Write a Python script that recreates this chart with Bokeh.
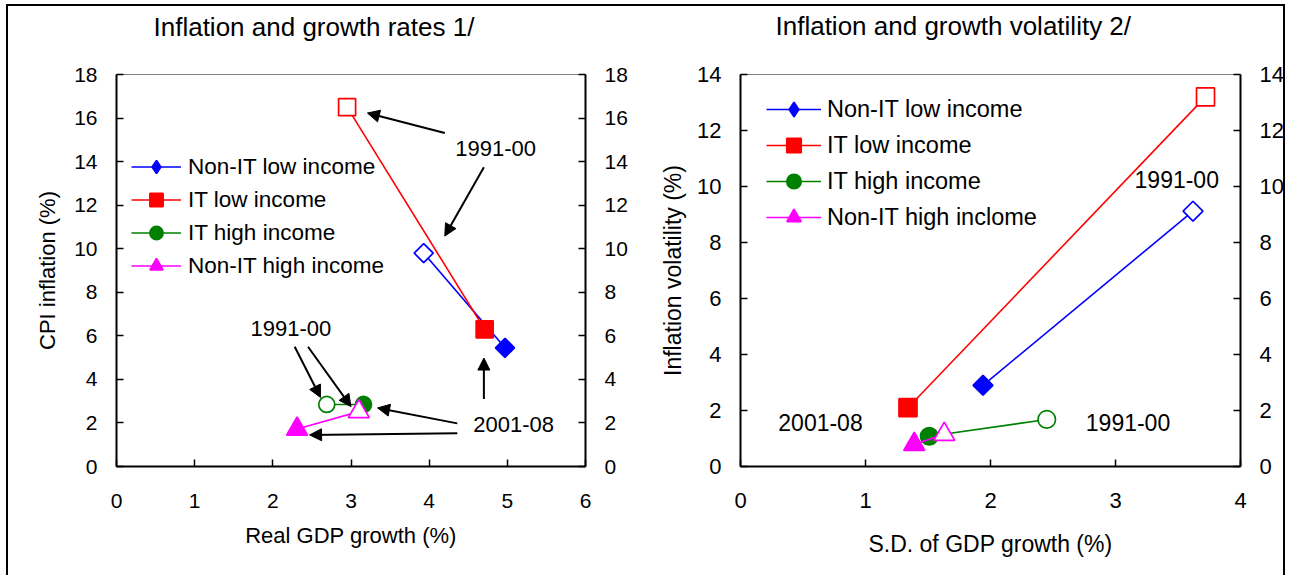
import math
from bokeh.plotting import figure
from bokeh.models import (Range1d, LinearAxis, FixedTicker, Label, Arrow, NormalHead,
                          Legend, LegendItem, ColumnDataSource, Title)
from bokeh.layouts import row
from bokeh.embed import file_html
from bokeh.resources import INLINE

FONT = "Liberation Sans"

# ---------------- data ----------------
series_left = ["Non-IT low income", "IT low income", "IT high income", "Non-IT high income"]
series_right = ["Non-IT low income", "IT low income", "IT high income", "Non-IT high inclome"]
colors = ["#0000ff", "#ff0000", "#008000", "#ff00ff"]
markers = ["square", "square", "circle", "triangle"]   # first is drawn rotated (diamond)
legend_markers = ["diamond", "square", "circle", "triangle"]
angles = [math.pi / 4, 0, 0, 0]

# Left panel: real GDP growth (x) and CPI inflation (y); [1991-00, 2001-08]
growth_9100 = [3.93, 2.95, 2.69, 3.10]
growth_0108 = [4.97, 4.71, 3.16, 2.31]
cpi_9100 = [9.8, 16.5, 2.85, 2.52]
cpi_0108 = [5.45, 6.3, 2.85, 1.72]

# Right panel: S.D. of GDP growth (x) and inflation volatility (y); [1991-00, 2001-08]
sdgdp_9100 = [3.62, 3.72, 2.45, 1.63]
sdgdp_0108 = [1.94, 1.34, 1.51, 1.39]
vol_9100 = [9.12, 13.2, 1.68, 1.15]
vol_0108 = [2.9, 2.1, 1.08, 0.79]

left_x_ticks = [0, 1, 2, 3, 4, 5, 6]
left_y_ticks = [0, 2, 4, 6, 8, 10, 12, 14, 16, 18]
right_x_ticks = [0, 1, 2, 3, 4]
right_y_ticks = [0, 2, 4, 6, 8, 10, 12, 14]

# annotations (data coordinates)
left_labels = [("1991-00", 4.85, 14.62), ("1991-00", 2.23, 6.35), ("2001-08", 5.08, 1.95)]
left_arrows = [(4.20, 15.31, 3.21, 16.23), (4.70, 13.74, 4.20, 10.58),
               (2.28, 5.50, 2.61, 3.17), (2.45, 5.50, 3.00, 2.75),
               (4.36, 1.98, 3.34, 2.69), (4.36, 1.53, 2.47, 1.45),
               (4.70, 3.10, 4.70, 4.98)]
right_labels = [("1991-00", 3.49, 10.24), ("2001-08", 0.64, 1.56), ("1991-00", 3.10, 1.56)]

H = 575


def style_axis(ax, ticks, size, standoff):
    ax.ticker = FixedTicker(ticks=ticks)
    ax.axis_line_color = "black"
    ax.axis_line_width = 2
    ax.major_tick_in = 7
    ax.major_tick_out = 0
    ax.major_tick_line_color = "black"
    ax.major_tick_line_width = 1.5
    ax.minor_tick_line_color = None
    ax.major_label_text_font = FONT
    ax.major_label_text_font_size = size
    ax.major_label_text_color = "black"
    ax.major_label_standoff = standoff
    ax.axis_label_text_font = FONT
    ax.axis_label_text_font_style = "normal"
    ax.axis_label_text_color = "black"


def make_panel(width, borders, xr, yr, xt, yt, xlabel, ylabel, title, title_cfg,
               xs9, xs0, ys9, ys0, names, sizes, fs, legend_cfg, labels, arrows):
    bl, br, bt, bb = borders
    p = figure(width=width, height=H, x_range=Range1d(*xr), y_range=Range1d(*yr),
               output_backend="svg", toolbar_location=None, title=None,
               min_border_left=bl, min_border_right=br, min_border_top=bt, min_border_bottom=bb)
    p.background_fill_color = "white"
    p.border_fill_color = None
    p.outline_line_color = "#808080"
    p.outline_line_width = 1
    p.xgrid.visible = False
    p.ygrid.visible = False

    style_axis(p.xaxis[0], xt, fs["tick"], fs["xstand"])
    style_axis(p.yaxis[0], yt, fs["tick"], fs["ystand"])
    p.xaxis[0].axis_label = xlabel
    p.yaxis[0].axis_label = ylabel
    p.xaxis[0].axis_label_text_font_size = fs["axis"]
    p.yaxis[0].axis_label_text_font_size = fs["axis"]
    p.xaxis[0].axis_label_standoff = fs["xlab"]
    p.yaxis[0].axis_label_standoff = fs["ylab"]

    ry = LinearAxis()
    style_axis(ry, yt, fs["tick"], fs["ystand"])
    p.add_layout(ry, "right")

    # second (empty) line keeps the title high above the frame
    p.add_layout(Title(text=title + "\n", align="left", offset=title_cfg[0],
                       standoff=title_cfg[1], vertical_align="top",
                       text_font=FONT, text_font_size=fs["title"], text_font_style="normal",
                       text_color="black"), "above")

    items = []
    for i in range(4):
        src = ColumnDataSource(dict(x=[xs9[i], xs0[i]], y=[ys9[i], ys0[i]],
                                    fill=["white", colors[i]]))
        lr = p.line("x", "y", source=src, line_color=colors[i], line_width=1.6)
        sr = p.scatter("x", "y", source=src, marker=markers[i], size=sizes[i], angle=angles[i],
                       fill_color="fill", line_color=colors[i], line_width=1.7)
        proxy = p.scatter("x", "y", source=src, marker=legend_markers[i], size=sizes[i],
                          fill_color="fill", line_color=colors[i], line_width=1.7,
                          visible=False)
        items.append(LegendItem(label=names[i], renderers=[lr, proxy], index=1))

    lg = Legend(items=items, location=legend_cfg["loc"], padding=0, margin=0, spacing=0,
                glyph_width=legend_cfg["gw"], glyph_height=legend_cfg["gh"],
                label_standoff=legend_cfg["stand"], label_text_font=FONT,
                label_text_font_size=fs["legend"], label_text_color="black",
                border_line_color=None, background_fill_alpha=0, click_policy="none")
    p.add_layout(lg, "center")

    for (t, x, y) in labels:
        p.add_layout(Label(x=x, y=y, text=t, text_font=FONT, text_font_size=fs["note"],
                           text_align="center", text_baseline="middle", text_color="black"))
    for (x0, y0, x1, y1) in arrows:
        p.add_layout(Arrow(x_start=x0, y_start=y0, x_end=x1, y_end=y1, line_width=2,
                           line_color="black",
                           end=NormalHead(size=12, fill_color="black", line_color="black",
                                          line_width=1)))
    return p


p1 = make_panel(648, (116, 63, 73, H - 466), (0, 6), (0, 18), left_x_ticks, left_y_ticks,
                "Real GDP growth (%)", "CPI inflation (%)", "Inflation and growth rates 1/",
                (37, 2), growth_9100, growth_0108, cpi_9100, cpi_0108, series_left,
                [13.5, 17, 16, 21],
                dict(tick="21px", axis="22px", legend="22.5px", title="26px", note="22px",
                     xstand=27, ystand=19, xlab=12, ylab=11),
                dict(loc=(15, 184), gw=50, gh=33, stand=7),
                left_labels, left_arrows)

p2 = make_panel(642, (92, 50, 74, H - 469), (0, 4), (0, 14), right_x_ticks, right_y_ticks,
                "S.D. of GDP growth (%)", "Inflation volatility (%)",
                "Inflation and growth volatility 2/",
                (35, 4), sdgdp_9100, sdgdp_0108, vol_9100, vol_0108, series_right,
                [14, 18, 17.5, 21],
                dict(tick="22px", axis="23px", legend="23.5px", title="26px", note="23px",
                     xstand=26, ystand=19, xlab=20, ylab=8),
                dict(loc=(26, 231), gw=55, gh=36, stand=6),
                right_labels, [])

frame_css = ("inset 6px 4px 0 0 white, inset -5px 0 0 0 white, "
             "inset 8px 6px 0 0 black, inset -7px 0 0 0 black")
layout = row(p1, p2, styles={"box-shadow": frame_css, "background-color": "white"})

open("out.html", "w").write(file_html(layout, INLINE))
